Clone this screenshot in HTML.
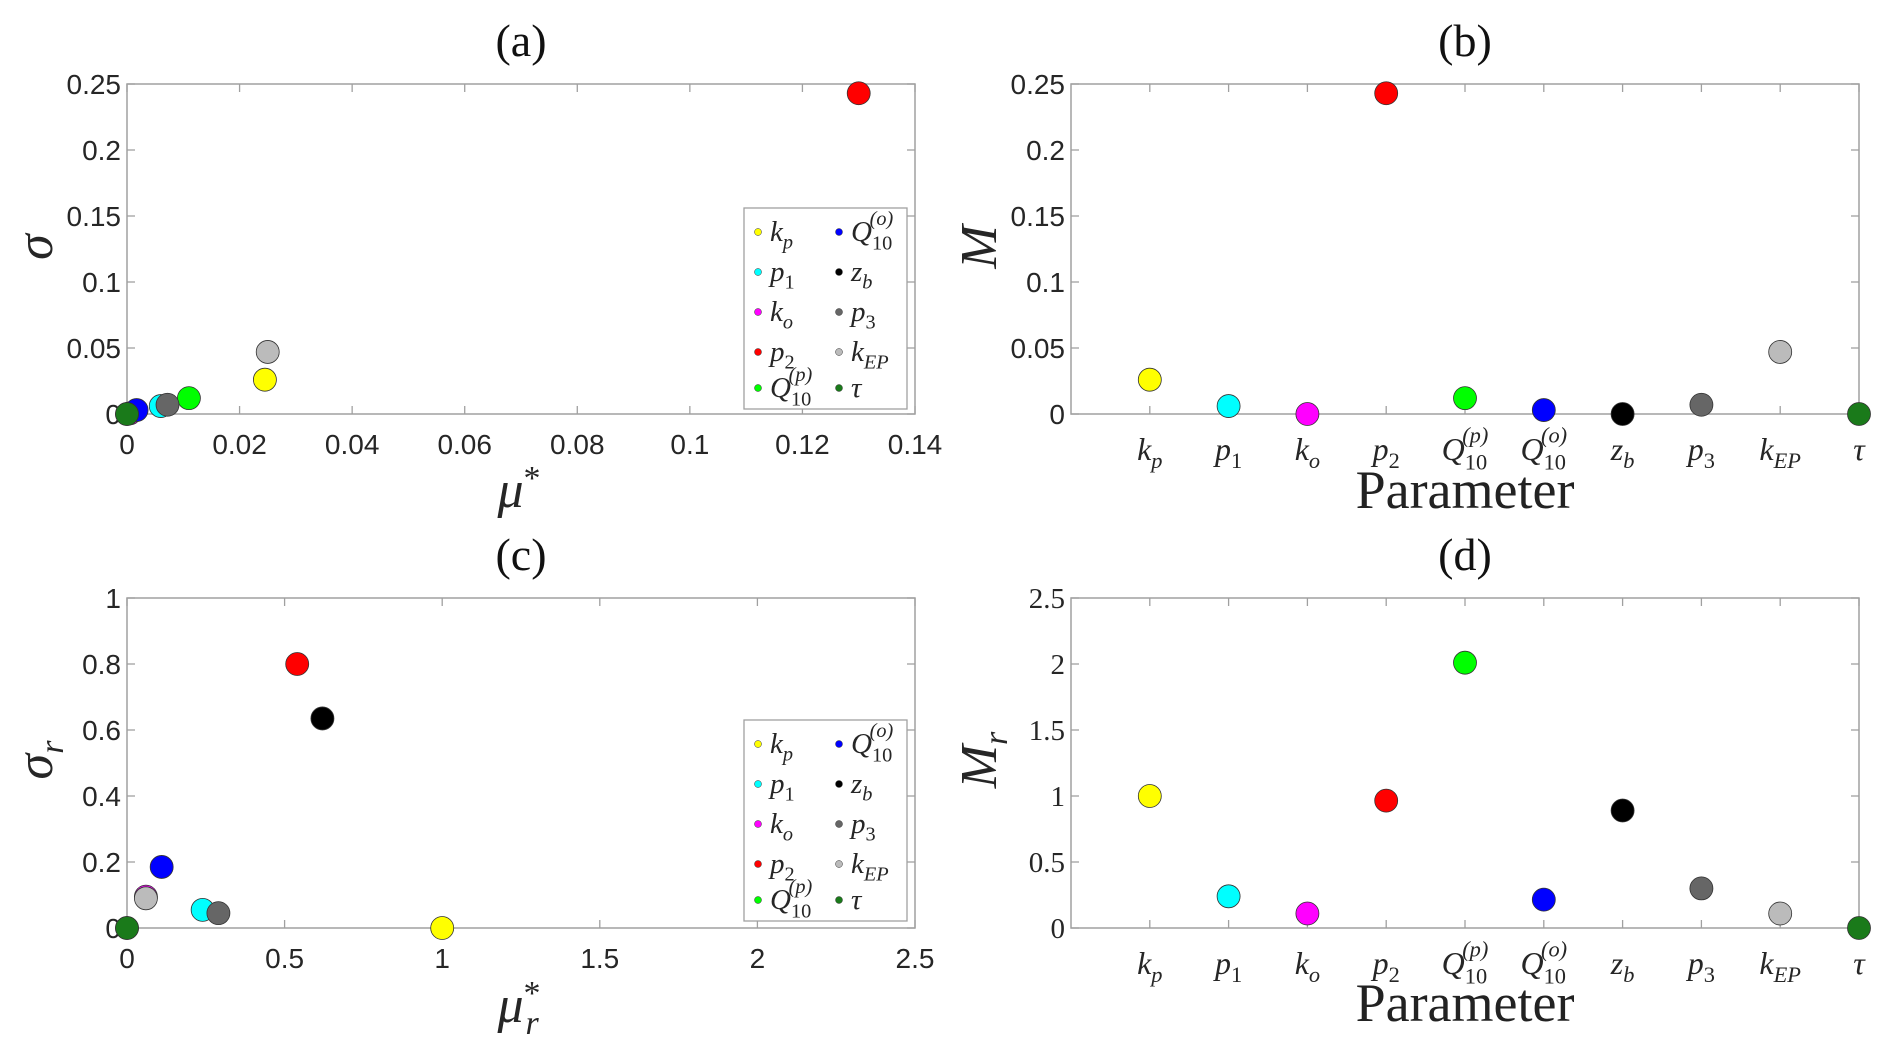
<!DOCTYPE html>
<html><head><meta charset="utf-8"><style>
html,body{margin:0;padding:0;background:#fff;}
svg{display:block;}
.tk{font-family:"Liberation Sans",sans-serif;font-size:28px;fill:#262626;}
.tks{font-family:"Liberation Serif",serif;font-size:29px;fill:#262626;}
.mth{font-family:"Liberation Serif",serif;font-style:italic;fill:#262626;}
.ttl{font-family:"Liberation Serif",serif;font-size:46px;fill:#111;}
</style></head><body>
<svg id="fig" width="1892" height="1046" viewBox="0 0 1892 1046" xmlns="http://www.w3.org/2000/svg"></svg>
<script>
const params = ["kp","p1","ko","p2","Q10p","Q10o","zb","p3","kEP","tau"];
const colors = ["#ffff00","#00ffff","#ff00ff","#ff0000","#00ff00","#0000ff","#000000","#666666","#bbbbbb","#1a7a1a"];
const muStar = [0.0245,0.006,0.0005,0.130,0.011,0.0017,0.0,0.0072,0.025,0.0];
const sigma = [0.026,0.006,0.0005,0.243,0.012,0.003,0.0,0.007,0.047,0.0];
const M = [0.026,0.006,0.0,0.243,0.012,0.003,0.0,0.007,0.047,0.0];
const muStarR = [1.0,0.24,0.06,0.54,0.0,0.11,0.62,0.29,0.06,0.0];
const sigmaR = [0.0,0.055,0.095,0.80,0.0,0.185,0.635,0.045,0.09,0.0];
const Mr = [1.0,0.24,0.11,0.965,2.01,0.215,0.89,0.30,0.11,0.0];
const ticksAx = ["0","0.02","0.04","0.06","0.08","0.1","0.12","0.14"];
const ticksAy = ["0","0.05","0.1","0.15","0.2","0.25"];
const ticksCx = ["0","0.5","1","1.5","2","2.5"];
const ticksCy = ["0","0.2","0.4","0.6","0.8","1"];
const ticksDy = ["0","0.5","1","1.5","2","2.5"];
const orderA = [0,2,8,3,4,1,7,5,6,9];

const NS="http://www.w3.org/2000/svg";
const svg=document.getElementById('fig');
function el(tag,attrs,parent){const e=document.createElementNS(NS,tag);for(const k in attrs)e.setAttribute(k,attrs[k]);(parent||svg).appendChild(e);return e;}

function mathLabel(g,name,x,y,size,anchor){
  const t=el('text',{x:x,y:y,'font-size':size,'text-anchor':anchor||'start',class:'mth'},g);
  const sub=(s)=>{const ts=el('tspan',{'font-size':size*0.7,dy:size*0.25},t);ts.textContent=s;ts.setAttribute('font-style',/[0-9]/.test(s)?'normal':'italic');return ts;};
  const main=(s)=>{const ts=el('tspan',{},t);ts.textContent=s;return ts;};
  if(name==="kp"){main("k");sub("p");}
  else if(name==="p1"){main("p");sub("1");}
  else if(name==="ko"){main("k");sub("o");}
  else if(name==="p2"){main("p");sub("2");}
  else if(name==="p3"){main("p");sub("3");}
  else if(name==="zb"){main("z");sub("b");}
  else if(name==="kEP"){main("k");sub("EP");}
  else if(name==="tau"){main("τ");}
  else {main("Q");const s=el('tspan',{'font-size':size*0.7,dy:size*0.3,'font-style':'normal'},t);s.textContent="10";
    const sup=el('tspan',{'font-size':size*0.7,dx:-size*0.78,dy:-size*0.85,'font-style':'italic'},t);
    sup.textContent=name==="Q10p"?"(p)":"(o)";}
  return t;
}

function panel(opt){
  const g=el('g',{});
  
  
  const {L,R,T,B}=opt;
  const sx=v=>L+(v-opt.xmin)/(opt.xmax-opt.xmin)*(R-L);
  const sy=v=>B-(v-opt.ymin)/(opt.ymax-opt.ymin)*(B-T);
  el('rect',{x:L,y:T,width:R-L,height:B-T,fill:'none',stroke:'#a0a0a0','stroke-width':1.5},g);
  opt.yt.forEach(s=>{const v=parseFloat(s),y=sy(v);
    el('line',{x1:L,x2:L+8,y1:y,y2:y,stroke:'#a0a0a0','stroke-width':1.3},g);
    el('line',{x1:R,x2:R-8,y1:y,y2:y,stroke:'#a0a0a0','stroke-width':1.3},g);
    const t=el('text',{x:L-6,y:y+10,'text-anchor':'end',class:opt.serif?'tks':'tk'},g);t.textContent=s;
    });
  if(opt.xt){opt.xt.forEach(s=>{const v=parseFloat(s),x=sx(v);
    el('line',{x1:x,x2:x,y1:B,y2:B-8,stroke:'#a0a0a0','stroke-width':1.3},g);
    el('line',{x1:x,x2:x,y1:T,y2:T+8,stroke:'#a0a0a0','stroke-width':1.3},g);
    const t=el('text',{x:x,y:B+40,'text-anchor':'middle',class:'tk'},g);t.textContent=s;
    });}
  else {params.forEach((p,i)=>{const x=sx(i+1);
    el('line',{x1:x,x2:x,y1:B,y2:B-8,stroke:'#a0a0a0','stroke-width':1.3},g);
    el('line',{x1:x,x2:x,y1:T,y2:T+8,stroke:'#a0a0a0','stroke-width':1.3},g);
    const t=mathLabel(g,p,x,B+46,32,'middle');
    });}
  const order=opt.order||[0,1,2,3,4,5,6,7,8,9];
  order.forEach(i=>{const xv=opt.xs?opt.xs[i]:i+1;
    const c=el('circle',{cx:sx(xv),cy:sy(opt.ys[i]),r:11.5,fill:colors[i],stroke:'#333','stroke-width':0.8},g);
    
    });
  const tt=el('text',{x:(L+R)/2,y:T-28,'text-anchor':'middle',class:'ttl'},g);tt.textContent=opt.title;
  
  if(opt.legend){const lx=744,ly=opt.legendTop,w=163,h=201;
    const lg=el('g',{},g);
    el('rect',{x:lx,y:ly,width:w,height:h,fill:'#fff',stroke:'#a0a0a0','stroke-width':1.3},lg);
    const rows=[24,64,104,144,180];
    params.forEach((p,i)=>{const col=Math.floor(i/5),row=i%5;const x=lx+14+col*81,y=ly+rows[row];
      const d=el('circle',{cx:x,cy:y,r:3.5,fill:colors[i],stroke:'#333','stroke-width':0.5},lg);
      
      const t=mathLabel(lg,p,x+12,y+9,29);
      });}
  return g;
}
panel({name:'panel-a',L:127,R:915,T:84,B:414,xmin:0,xmax:0.14,ymin:0,ymax:0.25,xt:ticksAx,yt:ticksAy,xs:muStar,ys:sigma,title:'(a)',legend:true,legendTop:208,order:orderA});
panel({name:'panel-b',L:1071,R:1859,T:84,B:414,xmin:0,xmax:10,ymin:0,ymax:0.25,yt:ticksAy,ys:M,title:'(b)'});
panel({name:'panel-c',L:127,R:915,T:598,B:928,xmin:0,xmax:2.5,ymin:0,ymax:1,xt:ticksCx,yt:ticksCy,xs:muStarR,ys:sigmaR,title:'(c)',legend:true,legendTop:720,order:orderA});
panel({name:'panel-d',L:1071,R:1859,T:598,B:928,xmin:0,xmax:10,ymin:0,ymax:2.5,yt:ticksDy,ys:Mr,title:'(d)',serif:true});

function axisLabel(name,x,y,rot,html){
  const t=el('text',{x:x,y:y,'text-anchor':'middle',class:'mth','font-size':52});
  if(rot)t.setAttribute('transform','rotate(-90 '+x+' '+y+')');
  html(t);
  
}
function ts(t,s,a){const e=el('tspan',a||{},t);e.textContent=s;return e;}
axisLabel('y-axis-title-a',52,247,true,t=>{ts(t,'σ');});
axisLabel('x-axis-title-a',519,507,false,t=>{ts(t,'μ');ts(t,'*',{'font-size':34,dy:-18,'font-style':'normal'});});
axisLabel('y-axis-title-b',996,247,true,t=>{ts(t,'M');});
axisLabel('y-axis-title-c',52,760,true,t=>{ts(t,'σ');ts(t,'r',{'font-size':34,dy:11});});
axisLabel('x-axis-title-c',519,1022,false,t=>{ts(t,'μ');ts(t,'*',{'font-size':34,dy:-18,'font-style':'normal'});ts(t,'r',{'font-size':34,dx:-15,dy:30});});
axisLabel('y-axis-title-d',996,760,true,t=>{ts(t,'M');ts(t,'r',{'font-size':34,dy:11});});
['b','d'].forEach((p,k)=>{const t=el('text',{x:1465,y:k?1021:508,'text-anchor':'middle','font-size':54,'font-family':'"Liberation Serif",serif',fill:'#222'});
  t.textContent='Parameter';});
</script>
</body></html>
